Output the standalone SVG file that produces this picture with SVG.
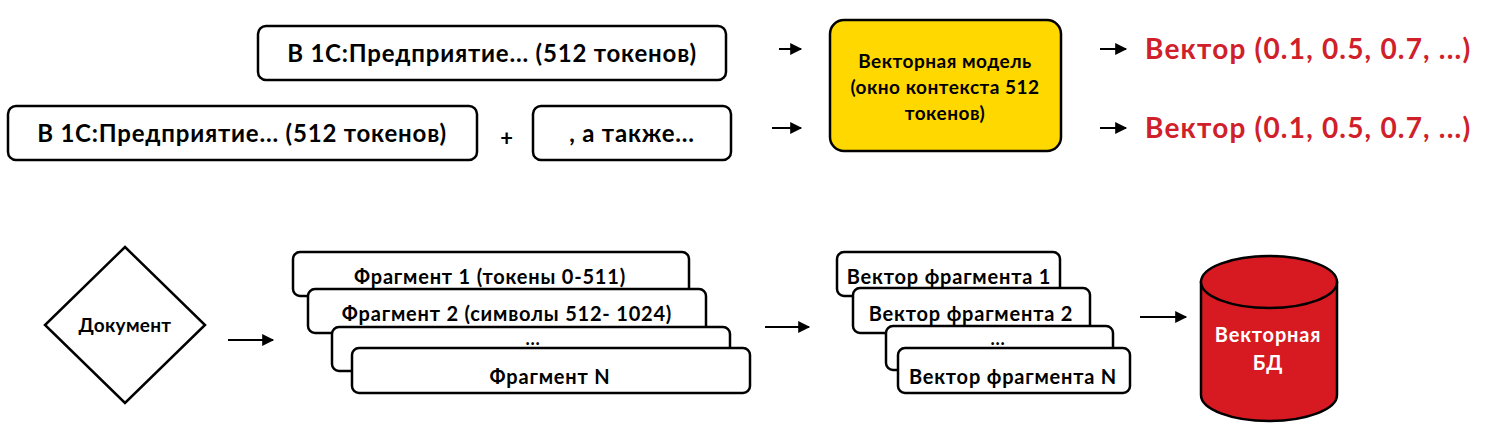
<svg xmlns="http://www.w3.org/2000/svg" width="1500" height="423" viewBox="0 0 1500 423">
<defs>
<marker id="ah" viewBox="0 0 10 10" refX="9" refY="5" markerWidth="13" markerHeight="12" markerUnits="userSpaceOnUse" orient="auto"><path d="M0,0 L10,5 L0,10 z" fill="#000"/></marker>
<style>
.b{fill:#fff;stroke:#000;stroke-width:2.5}
.t{font-family:Lato,"Liberation Sans",sans-serif;font-weight:bold;fill:#000;text-anchor:middle;letter-spacing:0.8px}
.r{font-family:Lato,"Liberation Sans",sans-serif;font-weight:bold;fill:#d0202a;font-size:28px;letter-spacing:1.2px}
.c{stroke:#000;stroke-width:2;fill:none;marker-end:url(#ah)}
</style>
</defs>
<rect width="1500" height="423" fill="#fff"/>
<g id="top1"><rect class="b" x="258" y="26" width="468" height="54" rx="8"/><text class="t" x="492" y="62" font-size="24">В 1С:Предприятие... (512 токенов)</text></g>
<g id="top2"><rect class="b" x="8" y="106" width="469" height="54" rx="8"/><text class="t" x="242" y="142" font-size="24">В 1С:Предприятие... (512 токенов)</text></g>
<text class="t" x="507" y="146" font-size="22">+</text>
<g id="top3"><rect class="b" x="533" y="106" width="198" height="54" rx="8"/><text class="t" x="632" y="142" font-size="24">, а также...</text></g>
<g id="model"><rect x="830" y="20" width="231" height="131" rx="14" fill="#ffd800" stroke="#000" stroke-width="2.5"/>
<text class="t" x="945" y="68" font-size="19" style="letter-spacing:0.5px">Векторная модель</text>
<text class="t" x="945" y="94" font-size="19" style="letter-spacing:0.5px">(окно контекста 512</text>
<text class="t" x="945" y="120" font-size="19" style="letter-spacing:0.5px">токенов)</text></g>
<g id="out1"><text class="r" x="1145" y="59">Вектор (0.1, 0.5, 0.7, ...)</text></g>
<g id="out2"><text class="r" x="1145" y="138">Вектор (0.1, 0.5, 0.7, ...)</text></g>
<g id="doc"><polygon class="b" points="125,247 205,325 125,403 45,325"/><text class="t" x="125" y="332" font-size="19" style="letter-spacing:0.3px">Документ</text></g>
<g id="frags">
<rect class="b" x="293" y="252" width="396" height="44" rx="7"/><text class="t" x="490" y="284" font-size="20">Фрагмент 1 (токены 0-511)</text>
<rect class="b" x="308" y="289" width="398" height="44" rx="7"/><text class="t" x="507" y="321" font-size="20">Фрагмент 2 (символы 512- 1024)</text>
<rect class="b" x="332" y="327" width="398" height="44" rx="7"/><text class="t" x="533" y="345" font-size="18">...</text>
<rect class="b" x="352" y="348" width="398" height="45" rx="7"/><text class="t" x="550" y="384" font-size="20">Фрагмент N</text>
</g>
<g id="vecs">
<rect class="b" x="837" y="252" width="223" height="44" rx="7"/><text class="t" x="949" y="284" font-size="20">Вектор фрагмента 1</text>
<rect class="b" x="853" y="288" width="237" height="45" rx="7"/><text class="t" x="971" y="321" font-size="20">Вектор фрагмента 2</text>
<rect class="b" x="886" y="326" width="227" height="44" rx="7"/><text class="t" x="998" y="345" font-size="18">...</text>
<rect class="b" x="898" y="348" width="232" height="45" rx="7"/><text class="t" x="1013" y="384" font-size="20">Вектор фрагмента N</text>
</g>
<g id="db">
<path d="M1201,282 L1201,395 A68,26 0 0 0 1337,395 L1337,282 Z" fill="#d71a21" stroke="#000" stroke-width="2.5"/>
<ellipse cx="1269" cy="282" rx="68" ry="26" fill="#d71a21" stroke="#000" stroke-width="2.5"/>
<text class="t" x="1268" y="342" font-size="20" style="fill:#fff">Векторная</text>
<text class="t" x="1268" y="370" font-size="20" style="fill:#fff">БД</text>
</g>
<g id="connectors">
<line class="c" x1="779" y1="49" x2="801" y2="49"/>
<line class="c" x1="772" y1="128" x2="801" y2="128"/>
<line class="c" x1="1100" y1="49" x2="1126" y2="49"/>
<line class="c" x1="1100" y1="128" x2="1126" y2="128"/>
<line class="c" x1="228" y1="340" x2="273" y2="340"/>
<line class="c" x1="765" y1="327" x2="809" y2="327"/>
<line class="c" x1="1140" y1="317" x2="1186" y2="317"/>
</g>
</svg>
